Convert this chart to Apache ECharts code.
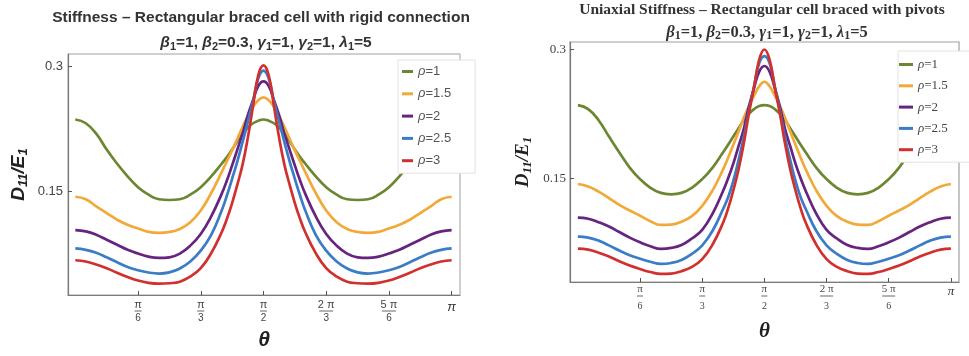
<!DOCTYPE html>
<html><head><meta charset="utf-8">
<script src="https://cdn.jsdelivr.net/npm/echarts@6/dist/echarts.min.js"></script>
<style>html,body{margin:0;padding:0;background:#fff}#c{width:969px;height:356px}</style>
</head><body><div id="c"></div>
<script>
// θ in degrees
const theta = [0,5,10,15,20,25,30,35,40,45,50,55,60,65,70,72.5,75,77.5,80,82.5,85,87.5,90,92.5,95,97.5,100,102.5,105,107.5,110,115,120,125,130,135,140,145,150,155,160,165,170,175,180];
const seriesNames = ['ρ=1','ρ=1.5','ρ=2','ρ=2.5','ρ=3'];

// Left chart: rigid connection
const rigidRho1 = [0.236,0.2315,0.219,0.200,0.183,0.168,0.155,0.146,0.1405,0.1396,0.1405,0.146,0.155,0.168,0.183,0.191,0.200,0.210,0.219,0.226,0.2315,0.2345,0.236,
  0.2345,0.2315,0.226,0.219,0.210,0.200,0.191,0.183,0.168,0.155,0.146,0.1405,0.1396,0.1405,0.146,0.155,0.168,0.183,0.200,0.219,0.2315,0.236];
const rigidRho15 = [0.1435,0.1405,0.132,0.124,0.116,0.110,0.1055,0.1015,0.1003,0.1013,0.105,0.113,0.127,0.148,0.173,0.186,0.199,0.213,0.227,0.240,0.251,0.259,0.2624,
  0.259,0.251,0.240,0.227,0.213,0.199,0.186,0.173,0.148,0.127,0.113,0.105,0.1013,0.1003,0.1015,0.1055,0.110,0.116,0.124,0.132,0.1405,0.1435];
const rigidRho2 = [0.1035,0.102,0.098,0.092,0.086,0.080,0.0755,0.0718,0.0703,0.071,0.0755,0.085,0.099,0.120,0.147,0.163,0.181,0.200,0.219,0.241,0.259,0.276,0.2816,
  0.276,0.259,0.241,0.219,0.200,0.181,0.163,0.147,0.120,0.099,0.085,0.0755,0.071,0.0703,0.0718,0.0755,0.080,0.086,0.092,0.098,0.102,0.1035];
const rigidRho25 = [0.0816,0.080,0.0765,0.071,0.065,0.0595,0.0555,0.0528,0.0516,0.053,0.0576,0.066,0.079,0.098,0.127,0.145,0.165,0.186,0.209,0.233,0.258,0.285,0.2944,
  0.285,0.258,0.233,0.209,0.186,0.165,0.145,0.127,0.098,0.079,0.066,0.0576,0.053,0.0516,0.0528,0.0555,0.0595,0.065,0.071,0.0765,0.080,0.0816];
const rigidRho3 = [0.0675,0.066,0.0625,0.058,0.0525,0.0475,0.0432,0.0405,0.0395,0.040,0.0418,0.048,0.058,0.076,0.101,0.117,0.136,0.158,0.182,0.214,0.252,0.289,0.3008,
  0.289,0.252,0.214,0.182,0.158,0.136,0.117,0.101,0.076,0.058,0.048,0.0418,0.040,0.0395,0.0405,0.0432,0.0475,0.0525,0.058,0.0625,0.066,0.0675];

// Right chart: pivots
const pivotRho1 = [0.235,0.2305,0.2175,0.1985,0.180,0.1625,0.149,0.139,0.133,0.1314,0.133,0.139,0.149,0.1625,0.180,0.189,0.1985,0.208,0.2175,0.225,0.2305,0.234,0.235,
  0.234,0.2305,0.225,0.2175,0.208,0.1985,0.189,0.180,0.1625,0.149,0.139,0.133,0.1314,0.133,0.139,0.149,0.1625,0.180,0.1985,0.2175,0.2305,0.235];
const pivotRho15 = [0.1434,0.1405,0.1345,0.127,0.119,0.1125,0.1065,0.100,0.0958,0.0962,0.0995,0.106,0.118,0.136,0.160,0.174,0.189,0.204,0.220,0.234,0.246,0.257,0.2623,
  0.257,0.246,0.234,0.220,0.204,0.189,0.174,0.160,0.136,0.118,0.106,0.0995,0.0962,0.0958,0.100,0.1065,0.1125,0.119,0.127,0.1345,0.1405,0.1434];
const pivotRho2 = [0.1042,0.103,0.099,0.094,0.0875,0.081,0.0755,0.071,0.068,0.069,0.0725,0.080,0.090,0.109,0.135,0.150,0.167,0.187,0.207,0.233,0.255,0.274,0.2806,
  0.274,0.255,0.233,0.207,0.187,0.167,0.150,0.135,0.109,0.090,0.080,0.0725,0.069,0.068,0.071,0.0755,0.081,0.0875,0.094,0.099,0.103,0.1042];
const pivotRho25 = [0.0821,0.081,0.0775,0.072,0.066,0.0605,0.0565,0.053,0.0505,0.0515,0.055,0.062,0.072,0.089,0.114,0.128,0.147,0.171,0.197,0.228,0.257,0.284,0.2921,
  0.284,0.257,0.228,0.197,0.171,0.147,0.128,0.114,0.089,0.072,0.062,0.055,0.0515,0.0505,0.053,0.0565,0.0605,0.066,0.072,0.0775,0.081,0.0821];
const pivotRho3 = [0.0682,0.067,0.0635,0.059,0.0535,0.0485,0.0445,0.041,0.0388,0.0392,0.042,0.047,0.056,0.073,0.098,0.115,0.136,0.160,0.190,0.225,0.256,0.288,0.2998,
  0.288,0.256,0.225,0.190,0.160,0.136,0.115,0.098,0.073,0.056,0.047,0.042,0.0392,0.0388,0.041,0.0445,0.0485,0.0535,0.059,0.0635,0.067,0.0682];

// Ticks
const xTicks = [30,60,90,120,150,180];
const xTickNum = ['π','π','π','2 π','5 π','π'];
const xTickDen = ['6','3','2','3','6',''];
const yTicks = [0.15,0.3];
const yTickLabels = ['0.15','0.3'];

const colors = ['#6b8731','#f1aa3a','#66247f','#3a7cc6','#d2302e'];
const SANS = 'Liberation Sans', SERIF = 'Liberation Serif';

function xFmt(v){
  const i = xTicks.indexOf(Math.round(v));
  if (i < 0) return '';
  if (!xTickDen[i]) return '{pi|' + xTickNum[i] + '}';
  const bar = xTickNum[i].length > 1 ? 'bar2' : 'bar1';
  return '{n|' + xTickNum[i] + '}\n{' + bar + '|}\n{d|' + xTickDen[i] + '}';
}
function yFmt(v){
  const i = yTicks.findIndex(t => Math.abs(t - v) < 1e-9);
  return i < 0 ? '' : yTickLabels[i];
}
const paramText = '{g|β}{s|1}{t|=1, }{g|β}{s|2}{t|=0.3, }{g|γ}{s|1}{t|=1, }{g|γ}{s|2}{t|=1, }{g|λ}{s|1}{t|=5}';
function paramRich(ff, fs){
  return {
    g:{fontFamily:ff,fontWeight:'bold',fontStyle:'italic',fontSize:fs,color:'#333',lineHeight:18},
    t:{fontFamily:ff,fontWeight:'bold',fontSize:fs,color:'#333',lineHeight:18},
    s:{fontFamily:ff,fontWeight:'bold',fontSize:fs-4.5,color:'#333',lineHeight:12,verticalAlign:'bottom'}
  };
}
function yNameRich(ff){
  return {
    d:{fontFamily:ff,fontWeight:'bold',fontStyle:'italic',fontSize:19,color:'#222',lineHeight:22},
    s:{fontFamily:ff,fontWeight:'bold',fontStyle:'italic',fontSize:13,color:'#222',lineHeight:14,verticalAlign:'bottom'}
  };
}
function xAxisCfg(gi, min, max, ff, sz){
  return {
    gridIndex:gi, type:'value', min:min, max:max,
    axisLine:{show:true,onZero:false,lineStyle:{color:'#7a7a7a',width:1.2}},
    axisTick:{show:true,inside:true,length:4,customValues:xTicks,lineStyle:{color:'#555'}},
    axisLabel:{customValues:xTicks,formatter:xFmt,margin:sz.margin,
      rich:{
        n:{fontFamily:ff,fontSize:sz.n,color:'#444',lineHeight:sz.n,align:'center'},
        d:{fontFamily:ff,fontSize:sz.n-1,color:'#444',lineHeight:sz.dl,align:'center'},
        bar1:{width:sz.b1,height:1,lineHeight:sz.bl,backgroundColor:'#666',align:'center'},
        bar2:{width:sz.b2,height:1,lineHeight:sz.bl,backgroundColor:'#666',align:'center'},
        pi:{fontFamily:ff,fontSize:sz.pi,color:'#333',fontStyle:'italic',lineHeight:sz.pi,padding:[sz.piPad,0,0,0]}
      }},
    splitLine:{show:false},
    name:'θ', nameLocation:'middle', nameGap:sz.nameGap,
    nameTextStyle:{fontFamily:ff,fontWeight:'bold',fontStyle:'italic',fontSize:21,color:'#222'}
  };
}
function yAxisCfg(gi, min, max, ff, fs, margin, nameGap){
  return {
    gridIndex:gi, type:'value', min:min, max:max,
    axisLine:{show:true,onZero:false,lineStyle:{color:'#7a7a7a',width:1.2}},
    axisTick:{show:true,inside:true,length:4,customValues:yTicks,lineStyle:{color:'#555'}},
    axisLabel:{customValues:yTicks,formatter:yFmt,margin:margin,fontFamily:ff,fontSize:fs,color:'#444'},
    splitLine:{show:false},
    name:'{d|D}{s|11}{d|/E}{s|1}', nameLocation:'middle', nameRotate:90, nameGap:nameGap,
    nameTextStyle:{rich:yNameRich(ff)}
  };
}
const leftData = [rigidRho1,rigidRho15,rigidRho2,rigidRho25,rigidRho3];
const rightData = [pivotRho1,pivotRho15,pivotRho2,pivotRho25,pivotRho3];
const series = [];
[leftData,rightData].forEach((set, gi) => {
  set.forEach((vals, k) => {
    series.push({
      type:'line', name:seriesNames[k], xAxisIndex:gi, yAxisIndex:gi,
      data: theta.map((t,i) => [t, vals[i]]),
      showSymbol:false, smooth:0.45,
      lineStyle:{color:colors[k],width:2.7}, itemStyle:{color:colors[k]}, z:2
    });
  });
});
function legendFmt(name){ return '{i|ρ}{t|' + name.slice(1) + '}'; }
const chart = echarts.init(document.getElementById('c'), null, {renderer:'canvas'});
chart.setOption({
  animation:false,
  backgroundColor:'#fff',
  title:[
    {text:'Stiffness – Rectangular braced cell with rigid connection',left:261,top:10,textAlign:'center',padding:0,
     textStyle:{fontFamily:SANS,fontWeight:'bold',fontSize:15.5,color:'#333'}},
    {text:paramText,left:266,top:34,textAlign:'center',padding:0,textStyle:{rich:paramRich(SANS,15.5)}},
    {text:'Uniaxial Stiffness – Rectangular cell braced with pivots',left:762,top:2,textAlign:'center',padding:0,
     textStyle:{fontFamily:SERIF,fontWeight:'bold',fontSize:15.5,color:'#333'}},
    {text:paramText,left:767,top:24,textAlign:'center',padding:0,textStyle:{rich:paramRich(SERIF,16.5)}}
  ],
  grid:[
    {left:68,top:54,width:392,height:241,show:true,borderColor:'#a0a0a0',borderWidth:1},
    {left:570,top:42,width:389,height:240,show:true,borderColor:'#a0a0a0',borderWidth:1.2}
  ],
  xAxis:[
    xAxisCfg(0,-3.5,184,SANS,{margin:4,n:11,dl:12,bl:2,b1:7,b2:14,pi:13,piPad:3,nameGap:35}),
    xAxisCfg(1,-3.8,183.9,SERIF,{margin:2,n:11,dl:18,bl:2,b1:6,b2:13,pi:13,piPad:2,nameGap:39})
  ],
  yAxis:[
    yAxisCfg(0,0.0259,0.3144,SANS,13,5,38),
    yAxisCfg(1,0.0294,0.3085,SERIF,13,4,36)
  ],
  legend:[
    {data:seriesNames,orient:'vertical',left:398,top:60,icon:'rect',itemWidth:11,itemHeight:3,itemGap:9.3,
     padding:[5,24,6,4],backgroundColor:'#fff',borderColor:'#e2e2e2',borderWidth:1,selectedMode:false,
     formatter:legendFmt,
     textStyle:{rich:{i:{fontFamily:SANS,fontStyle:'italic',fontSize:13,color:'#555',lineHeight:14},
                      t:{fontFamily:SANS,fontSize:13,color:'#555',lineHeight:14}}}},
    {data:seriesNames,orient:'vertical',left:898,top:51,icon:'rect',itemWidth:14,itemHeight:3,itemGap:8.3,
     padding:[7,40,6,1],backgroundColor:'#fff',borderColor:'#e2e2e2',borderWidth:1,selectedMode:false,
     formatter:legendFmt,
     textStyle:{rich:{i:{fontFamily:SERIF,fontStyle:'italic',fontSize:13,color:'#444',lineHeight:14},
                      t:{fontFamily:SERIF,fontSize:13,color:'#444',lineHeight:14}}}}
  ],
  series:series
});
</script></body></html>
